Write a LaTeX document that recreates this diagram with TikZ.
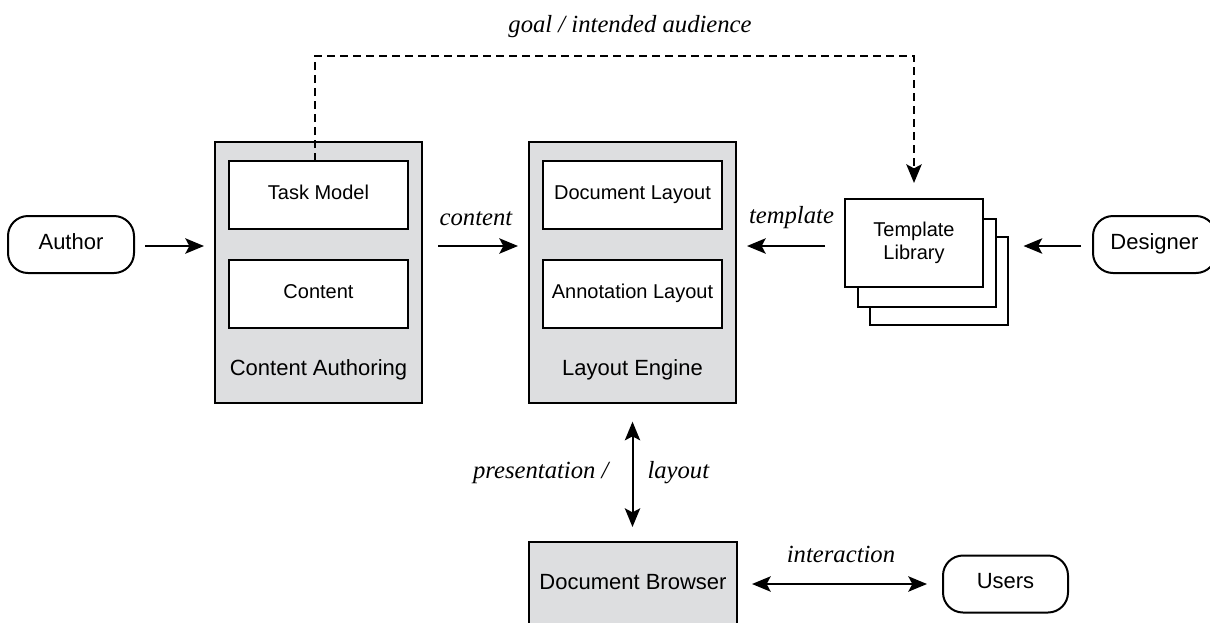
\documentclass[tikz,border=0pt]{standalone}
\usepackage{fontspec}
\setmainfont{Liberation Serif}
\setsansfont{Liberation Sans}
\usetikzlibrary{arrows.meta}
\definecolor{panelgray}{RGB}{221,222,224}
\begin{document}
\begin{tikzpicture}[x=0.75pt,y=-0.75pt,
  >={Stealth[length=14pt,width=11.5pt,inset=3pt]},
  every node/.style={inner sep=0pt, outer sep=0pt},
  panel/.style={draw, line width=1.5pt, fill=panelgray,
    minimum width=155.25pt, minimum height=195.75pt},
  part/.style={draw, line width=1.5pt, fill=white,
    minimum width=134.25pt, minimum height=51pt,
    font=\sffamily\fontsize{15}{18}\selectfont,
    text height=0.716em, text depth=0pt},
  paneltitle/.style={anchor=base, font=\sffamily\fontsize{16.5}{20}\selectfont},
  actor/.style={draw, line width=1.5pt, rounded corners=15pt,
    minimum height=42.75pt,
    font=\sffamily\fontsize{16.5}{20}\selectfont,
    text height=0.716em, text depth=0pt},
  sheet/.style={draw, line width=1.5pt, fill=white,
    minimum width=103.5pt, minimum height=66pt, align=center,
    font=\sffamily\fontsize{15}{18}\selectfont},
  flowlabel/.style={anchor=base, font=\itshape\fontsize{18.5}{22}\selectfont},
  arr/.style={line width=1.5pt, ->},
  biarr/.style={line width=1.5pt, <->},
  dasharr/.style={line width=1.5pt, dash pattern=on 6pt off 3.75pt, ->}
]
\useasboundingbox (0,0) rectangle (1210,622);
\clip (0,0) rectangle (1210,622);

% authoring and layout panels with their parts
\node[panel] (ca) at (318.5,272.5) {};
\node[part] (tm) at (318.5,195) {Task Model};
\node[part] (co) at (318.5,293.5) {Content};
\node[paneltitle] (catitle) at (318.5,375) {Content Authoring};

\node[panel] (le) at (632.5,272.5) {};
\node[part] (dl) at (632.5,195) {Document Layout};
\node[part] (al) at (632.5,293.5) {Annotation Layout};
\node[paneltitle] (letitle) at (632.5,375) {Layout Engine};

% browser (runs off the lower edge)
\node[draw, line width=1.5pt, fill=panelgray, minimum width=156pt,
  minimum height=64.5pt, font=\sffamily\fontsize{16.5}{20}\selectfont,
  text height=0.716em, text depth=0pt] (db) at (633,585) {Document Browser};

% actors
\node[actor, minimum width=94.5pt] (author) at (71,244.5) {Author};
\node[actor, minimum width=92.25pt] (designer) at (1154.5,244.5) {Designer};
\node[actor, minimum width=93.75pt] (users) at (1005.5,584) {Users};

% stacked template sheets
\node[sheet] (tl3) at (938.5,280.5) {};
\node[sheet] (tl2) at (927,262.5) {};
\node[sheet] (tl1) at (914,243) {Template\\[-1pt]Library};

% flow labels
\node[flowlabel] (goal) at (630,32) {goal / intended audience};
\node[flowlabel] (contentlbl) at (476,225) {content};
\node[flowlabel] (templatelbl) at (791.5,223) {template};
\node[flowlabel, anchor=base east] (preslbl) at (608.5,478) {presentation /};
\node[flowlabel, anchor=base west] (layoutlbl) at (647.5,478) {layout};
\node[flowlabel] (interlbl) at (841,562) {interaction};

% connectors
\coordinate (flowy) at (0,246);
\coordinate (goaly) at (0,56);
\draw[arr, shorten <=8.25pt, shorten >=8.25pt]
  (author.east |- flowy) -- (ca.west |- flowy);
\draw[arr, shorten <=12pt, shorten >=8.25pt]
  (ca.east |- flowy) -- (le.west |- flowy);
\draw[arr, shorten <=15pt, shorten >=8.25pt]
  (tl1.west |- flowy) -- (le.east |- flowy);
\draw[arr, shorten <=9pt, shorten >=12pt]
  (designer.west |- flowy) -- (tl3.east |- flowy);
\draw[biarr, shorten <=14pt, shorten >=11.25pt] (le.south) -- (le.south |- db.north);
\draw[biarr, shorten <=11.25pt, shorten >=12pt] (db.east |- users) -- (users.west);
\draw[dasharr, shorten >=12pt]
  ([xshift=-2.6pt]tm.north) -- ([xshift=-2.6pt]tm.north |- goaly)
  -- (tl1.north |- goaly) -- (tl1.north);
\end{tikzpicture}
\end{document}
